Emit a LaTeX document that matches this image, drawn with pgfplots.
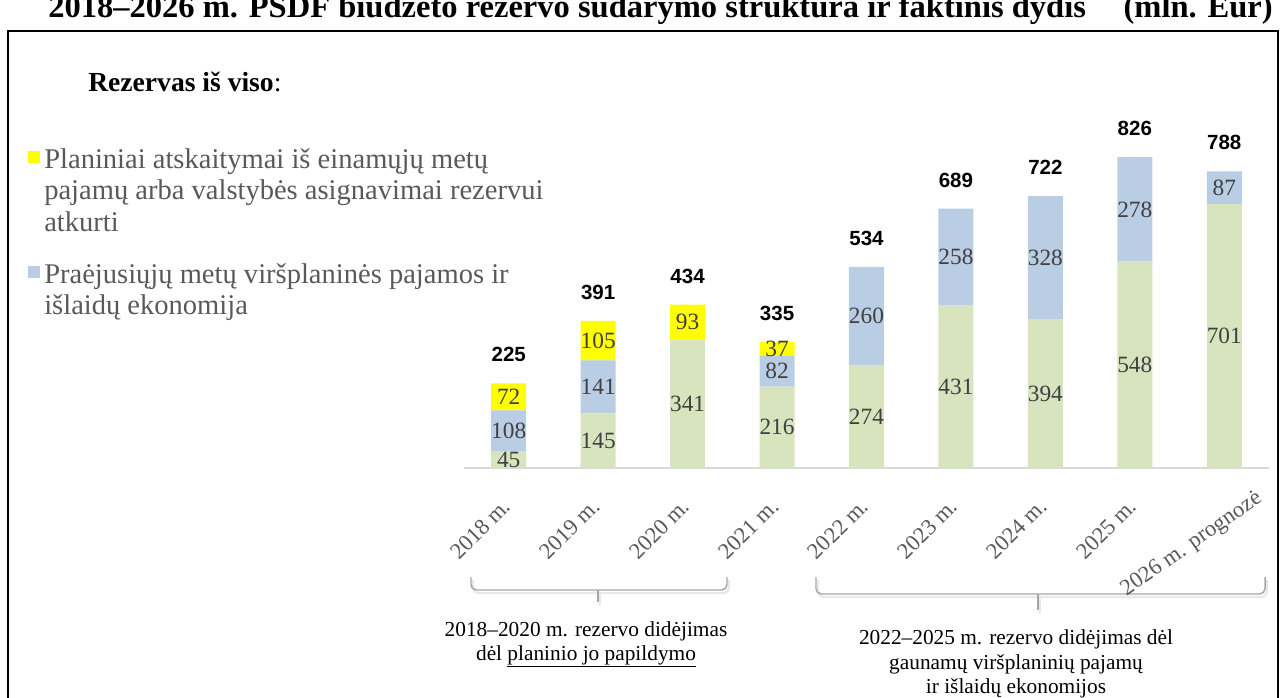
\documentclass[border=0pt]{standalone}
\usepackage{fontspec}
\setmainfont{Liberation Serif}
\newfontfamily\arialfont{Liberation Sans}
\usepackage{pgfplots}
\pgfplotsset{compat=1.18}
\usepackage{pgfplotstable}
\definecolor{cgreen}{HTML}{D7E4BD}
\definecolor{cblue}{HTML}{B9CDE5}
\definecolor{cyellow}{HTML}{FFFF00}
\definecolor{ctext}{HTML}{595959}
\definecolor{clab}{HTML}{404040}
\definecolor{cbrace}{HTML}{A6A6A6}
\definecolor{caxis}{HTML}{D9D9D9}

% stacked components (mln. Eur)
\pgfplotstableread{
x y
0 45
1 145
2 341
3 216
4 274
5 431
6 394
7 548
8 701
}\greendata
\pgfplotstableread{
x y
0 108
1 141
2 0
3 82
4 260
5 258
6 328
7 278
8 87
}\bluedata
\pgfplotstableread{
x y
0 72
1 105
2 93
3 37
4 0
5 0
6 0
7 0
8 0
}\yellowdata

\pgfplotsset{
  common/.style={
    at={(348pt,-351pt)}, anchor=south west,
    x=67.08pt, y=0.28237pt,
    xmin=-0.5, xmax=8.5, ymin=0, ymax=900,
    enlargelimits=false, clip=false,
  },
  lab/.style={
    only marks, mark=*, mark size=0pt, mark options={draw=none, fill=none},
    point meta=explicit symbolic,
    nodes near coords={\pgfplotspointmeta},
  },
}

\begin{document}
\begin{tikzpicture}
\begin{scope}[x=0.75pt,y=-0.75pt]
\useasboundingbox (0,0) rectangle (1284,697);
% frame
\draw[line width=1.5pt] (8,720) -- (8,31) -- (1278,31) -- (1278,720);
% title (cut at top)
\node[anchor=base west, inner sep=0pt, font=\bfseries\fontsize{24.4}{27}\selectfont] at (48,17)
  {2018–2026 m. PSDF biudžeto rezervo sudarymo struktūra ir faktinis dydis};
\node[anchor=base east, inner sep=0pt, font=\bfseries\fontsize{24.4}{27}\selectfont] at (1273,17)
  {(mln. Eur)};
% heading
\node[anchor=base west, inner sep=0pt, font=\fontsize{20.7}{23}\selectfont] at (88,91)
  {\textbf{Rezervas iš viso}:};
% braces
\begin{scope}[line width=1.1pt, rounded corners=4pt]
\draw[gray!18, line width=1.6pt] (473,580) -- (473,593) -- (729,593) -- (729,580);
\draw[gray!18, line width=1.6pt] (600,593) -- (600,605);
\draw[cbrace] (471,577) -- (471,590) -- (727,590) -- (727,577);
\draw[cbrace] (598,590) -- (598,602);
\draw[gray!18, line width=1.6pt] (818,580) -- (818,597) -- (1267,597) -- (1267,580);
\draw[gray!18, line width=1.6pt] (1040,597) -- (1040,613);
\draw[cbrace] (816,577) -- (816,594) -- (1265,594) -- (1265,577);
\draw[cbrace] (1038,594) -- (1038,610);
\end{scope}
% brace texts
\node[anchor=base, inner sep=0pt, font=\fontsize{16}{18}\selectfont] at (586,636)
  {2018–2020 m. rezervo didėjimas};
\node[anchor=base, inner sep=0pt, font=\fontsize{16}{18}\selectfont] at (586,660)
  {dėl \underline{planinio jo papildymo}};
\node[anchor=base, inner sep=0pt, font=\fontsize{16}{18}\selectfont] at (1016,644)
  {2022–2025 m. rezervo didėjimas dėl};
\node[anchor=base, inner sep=0pt, font=\fontsize{16}{18}\selectfont] at (1016,669)
  {gaunamų viršplaninių pajamų};
\node[anchor=base, inner sep=0pt, font=\fontsize{16}{18}\selectfont] at (1016,693)
  {ir išlaidų ekonomijos};
\end{scope}

% bars
\begin{axis}[
  common,
  ybar stacked, bar width=26.25pt,
  axis x line=bottom, axis y line=none,
  x axis line style={-, draw=caxis, line width=1.5pt},
  xtick={0,...,7},
  xticklabels={2018 m.,2019 m.,2020 m.,2021 m.,2022 m.,2023 m.,2024 m.,2025 m.},
  extra x ticks={8},
  extra x tick labels={2026 m. prognozė},
  extra x tick style={xticklabel style={xshift=23.2pt, yshift=-16.9pt, rotate=-10}},
  major tick length=0pt,
  xtick style={draw=none},
  xticklabel style={xshift=-1.5pt, yshift=-26pt, rotate=45, anchor=east,
    font=\fontsize{17}{19}\selectfont, text=ctext, inner sep=0pt},
  ytick=\empty,
  reverse legend,
  legend image code/.code={\fill[#1] (0pt,3.75pt) rectangle (9pt,12.75pt);},
  legend style={at={(-0.5416,0.944)}, anchor=north west, draw=none, fill=none,
    inner sep=0pt, row sep=69.75pt,
    font=\fontsize{21.4}{23.6}\selectfont, text=ctext,
    cells={anchor=base west},
    nodes={inner sep=0pt, inner xsep=3pt}},
]
\addplot[fill=cgreen, draw=none, forget plot] table[x=x, y=y]{\greendata};
\addplot[fill=cblue, draw=none] table[x=x, y=y]{\bluedata};
\addlegendentry{\parbox[t]{420pt}{Praėjusiųjų metų viršplaninės pajamos ir\\išlaidų ekonomija}}
\addplot[fill=cyellow, draw=none] table[x=x, y=y]{\yellowdata};
\addlegendentry{\parbox[t]{420pt}{Planiniai atskaitymai iš einamųjų metų\\pajamų arba valstybės asignavimai rezervui\\atkurti}}
\end{axis}

% value labels (centred in segments) and totals
\begin{axis}[common, hide axis]
\addplot[lab, every node near coord/.append style={anchor=center, inner sep=0pt,
    font=\fontsize{17.5}{19}\selectfont, text=clab}]
  coordinates {
  (0,22.5) [45] (1,72.5) [145] (2,170.5) [341] (3,108) [216] (4,137) [274]
  (5,215.5) [431] (6,197) [394] (7,274) [548] (8,350.5) [701]
  (0,99) [108] (1,215.5) [141] (3,257) [82] (4,404) [260]
  (5,560) [258] (6,558) [328] (7,687) [278] (8,744.5) [87]
  (0,189) [72] (1,338.5) [105] (2,387.5) [93] (3,316.5) [37]
  };
\addplot[lab, every node near coord/.append style={anchor=center, inner sep=0pt,
    yshift=21.5pt, font=\arialfont\bfseries\fontsize{15.4}{17}\selectfont, text=black}]
  coordinates {
  (0,225) [225] (1,391) [391] (2,434) [434] (3,335) [335] (4,534) [534]
  (5,689) [689] (6,722) [722] (7,826) [826] (8,788) [788]
  };
\end{axis}
\end{tikzpicture}
\end{document}
